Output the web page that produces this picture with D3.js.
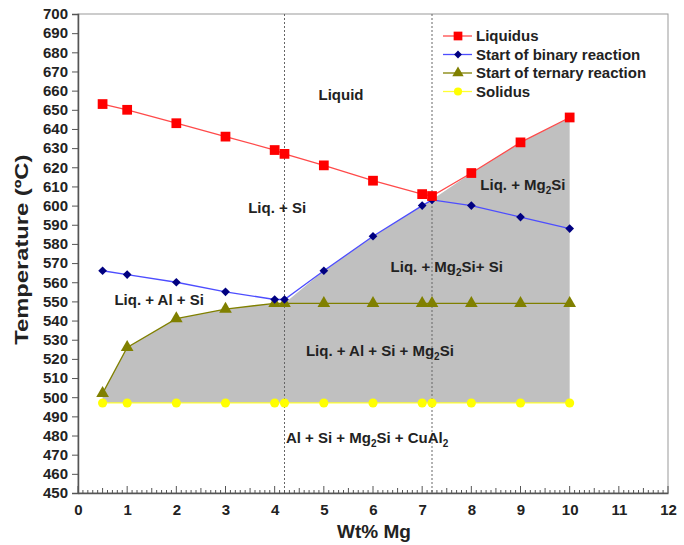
<!DOCTYPE html>
<html>
<head>
<meta charset="UTF-8">
<title>Al-Si-Mg phase diagram</title>
<script src="https://cdn.jsdelivr.net/npm/d3@7"></script>
<style>
  body { margin: 0; background: #fff; }
  text { font-family: "Liberation Sans", Arial, sans-serif; font-weight: bold; fill: #222; }
</style>
</head>
<body>
<div id="chart"></div>
<script>
// data
var mg        = [0.5, 1, 2, 3, 4, 4.2, 5, 6, 7, 7.2, 8, 9, 10];
var liquidus  = [653, 650, 643, 636, 629, 627, 621, 613, 606, 605, 617, 633, 646];
var binary    = [566, 564, 560, 555, 551, 551, 566, 584, 600, 603, 600, 594, 588];
var ternary   = [502, 526, 541, 546, 549, 549, 549, 549, 549, 549, 549, 549, 549];
var solidus   = [497, 497, 497, 497, 497, 497, 497, 497, 497, 497, 497, 497, 497];
var guides    = [4.2, 7.2];
var yTicks    = d3.range(450, 701, 10);
var xTicks    = d3.range(0, 13, 1);

var W = 684, H = 545;
var m = {left: 78, right: 16, top: 14, bottom: 52};

var svg = d3.select("#chart").append("svg")
    .attr("width", W).attr("height", H);

var x = d3.scaleLinear().domain([0, 12]).range([m.left, W - m.right]);
var y = d3.scaleLinear().domain([450, 700]).range([H - m.bottom, m.top]);

// gray region: ternary up to 4.2, binary to 7.2, liquidus to 10, back along solidus
var upper = mg.map(function(d, i) {
  if (d <= 4.2) return [d, ternary[i]];
  if (d <= 7.2) return [d, binary[i]];
  return [d, liquidus[i]];
});
var poly = upper.concat(mg.slice().reverse().map(function(d, i) {
  return [d, solidus[mg.length - 1 - i]];
}));
svg.append("path")
  .attr("d", d3.line().x(function(d){ return x(d[0]); }).y(function(d){ return y(d[1]); })(poly) + "Z")
  .attr("fill", "#c0c0c0");

// frame
svg.append("rect")
  .attr("x", x(0)).attr("y", y(700))
  .attr("width", x(12) - x(0)).attr("height", y(450) - y(700))
  .attr("fill", "none").attr("stroke", "#999").attr("stroke-width", 1);

// vertical dashed guides
svg.selectAll(".guide").data(guides).enter().append("line")
  .attr("x1", function(d){ return x(d); }).attr("x2", function(d){ return x(d); })
  .attr("y1", y(700)).attr("y2", y(450))
  .attr("stroke", "#666").attr("stroke-width", 1).attr("stroke-dasharray", "2,2");

// axes
var yAxis = svg.append("g").attr("transform", "translate(" + x(0) + ",0)")
  .call(d3.axisLeft(y).tickValues(yTicks).tickSize(6).tickPadding(4));
var xAxis = svg.append("g").attr("transform", "translate(0," + y(450) + ")")
  .call(d3.axisBottom(x).tickValues(xTicks).tickSize(0).tickPadding(11));
[yAxis, xAxis].forEach(function(g) {
  g.select(".domain").attr("stroke", "#555").attr("stroke-width", 1.5);
  g.selectAll(".tick line").attr("stroke", "#555");
  g.selectAll("text").attr("font-size", 15).attr("fill", "#222")
    .attr("font-family", "Liberation Sans, Arial, sans-serif").attr("font-weight", "bold");
});

// minor ticks on x axis (inside)
var minor = d3.range(0, 120.5, 1).map(function(d){ return d / 10; });
svg.append("g").selectAll("line").data(minor).enter().append("line")
  .attr("x1", function(d){ return x(d); }).attr("x2", function(d){ return x(d); })
  .attr("y1", y(450))
  .attr("y2", function(d, i){ return y(450) - (i % 10 === 0 ? 7 : (i % 5 === 0 ? 5 : 3)); })
  .attr("stroke", "#555").attr("stroke-width", 1);

// series (diamond = square turned 45 degrees)
var series = [
  {name: "Liquidus", values: liquidus, line: "#ff4a4a", fill: "#ff0000", shape: d3.symbolSquare, size: 95, rot: 0},
  {name: "Start of binary reaction", values: binary, line: "#4d4dff", fill: "#000080", shape: d3.symbolSquare, size: 38, rot: 45},
  {name: "Start of ternary reaction", values: ternary, line: "#808000", fill: "#808000", shape: d3.symbolTriangle, size: 70, rot: 0},
  {name: "Solidus", values: solidus, line: "#ffff33", fill: "#ffff00", shape: d3.symbolCircle, size: 65, rot: 0}
];

var line = d3.line()
  .x(function(d, i){ return x(mg[i]); })
  .y(function(d){ return y(d); });

series.slice().reverse().forEach(function(s) {
  svg.append("path").attr("d", line(s.values))
    .attr("fill", "none").attr("stroke", s.line).attr("stroke-width", 1.3);
  svg.append("g").selectAll("path").data(s.values).enter().append("path")
    .attr("transform", function(d, i){ return "translate(" + x(mg[i]) + "," + y(d) + ") rotate(" + s.rot + ")"; })
    .attr("d", d3.symbol().type(s.shape).size(s.size))
    .attr("fill", s.fill);
});

// legend
var leg = svg.append("g").attr("transform", "translate(443,36)");
series.forEach(function(s, i) {
  var g = leg.append("g").attr("transform", "translate(0," + (i * 18.5) + ")");
  g.append("line").attr("x1", 0).attr("x2", 29).attr("stroke", s.line).attr("stroke-width", 1.3);
  g.append("path").attr("transform", "translate(15,0) rotate(" + s.rot + ")")
    .attr("d", d3.symbol().type(s.shape).size(s.size * 0.8)).attr("fill", s.fill);
  g.append("text").attr("x", 33).attr("dy", "0.36em").attr("font-size", 15).text(s.name);
});

// phase labels
var labels = [
  {x: 5.35, y: 658, parts: [["Liquid"]]},
  {x: 4.05, y: 599, parts: [["Liq. + Si"]]},
  {x: 9.05, y: 611, parts: [["Liq. + Mg"], ["2", "sub"], ["Si"]]},
  {x: 7.5, y: 568, parts: [["Liq. + Mg"], ["2", "sub"], ["Si+ Si"]]},
  {x: 1.65, y: 551, parts: [["Liq. + Al + Si"]]},
  {x: 6.14, y: 524, parts: [["Liq. + Al + Si + Mg"], ["2", "sub"], ["Si"]]},
  {x: 5.88, y: 479, parts: [["Al + Si + Mg"], ["2", "sub"], ["Si + CuAl"], ["2", "sub"]]}
];
labels.forEach(function(l) {
  var t = svg.append("text").attr("x", x(l.x)).attr("y", y(l.y))
    .attr("dy", "0.35em").attr("text-anchor", "middle").attr("font-size", 15);
  l.parts.forEach(function(p) {
    var ts = t.append("tspan").text(p[0]);
    if (p[1] === "sub") ts.attr("font-size", 10).attr("dy", 4);
    else if (t.selectAll("tspan").size() > 1) ts.attr("dy", -4);
  });
});

// axis titles
svg.append("text").attr("x", 374).attr("y", 538)
  .attr("text-anchor", "middle").attr("font-size", 19).text("Wt% Mg");
svg.append("text").attr("transform", "translate(28," + y(577) + ") rotate(-90)")
  .attr("text-anchor", "middle").attr("font-size", 19)
  .attr("textLength", 190).attr("lengthAdjust", "spacingAndGlyphs")
  .text("Temperature (ºC)");
</script>
</body>
</html>
